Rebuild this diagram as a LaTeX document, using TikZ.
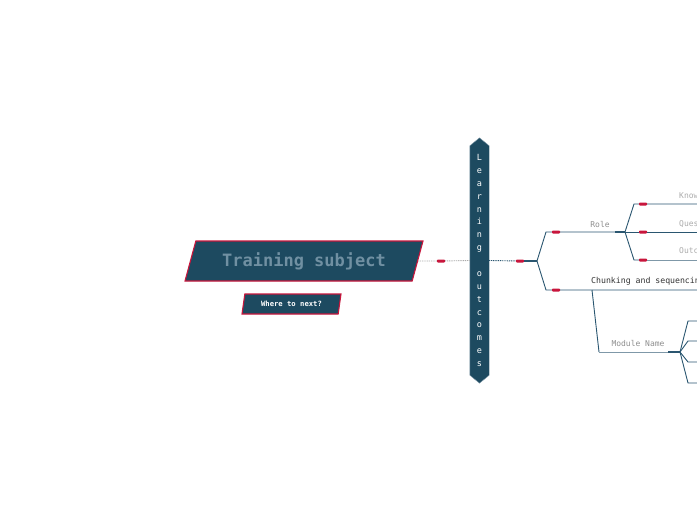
\documentclass[tikz,border=0pt]{standalone}
\usepackage{fontspec}
\setmonofont{DejaVu Sans Mono}
\usetikzlibrary{shapes.geometric,positioning,calc}
\definecolor{navy}{HTML}{1D4A60}
\definecolor{crim}{HTML}{C8163C}
\definecolor{subjtext}{HTML}{7090A2}
\definecolor{wire}{HTML}{2A5670}
\definecolor{softwire}{HTML}{7F98A8}
\definecolor{midgray}{HTML}{8E8E8E}
\definecolor{lightgray}{HTML}{ABABAB}

\begin{document}
\begin{tikzpicture}[x=1pt, y=-1pt,
    para/.style={trapezium, trapezium stretches body, draw=crim, fill=navy, line width=1.1pt, inner sep=0pt, font=\ttfamily\bfseries},
    hexbar/.style={rectangle, minimum width=19pt, minimum height=245pt, inner sep=0pt, text=white, align=center, font=\ttfamily\fontsize{8.5}{12.88}\selectfont},
    marker/.style={rectangle, fill=crim, minimum width=8pt, minimum height=3pt, inner sep=0pt, rounded corners=0.8pt},
    label/.style={font=\ttfamily\fontsize{8}{9}\selectfont, text=midgray, inner sep=0pt},
    leaf/.style={label, text=lightgray, anchor=west},
    branch/.style={wire, line width=0.9pt},
    dotline/.style={lightgray, line width=0.9pt, dash pattern=on 1pt off 0.8pt}]

    \useasboundingbox (0,0) rectangle (697,520);
    \clip (0,0) rectangle (697,520);

    \node[para, trapezium left angle=58, trapezium right angle=122, minimum width=238pt, minimum height=40pt, text=subjtext, font=\ttfamily\bfseries\fontsize{17}{20}\selectfont] (subject) at (304,261) {Training subject};
    \node[para, trapezium left angle=63, trapezium right angle=117, minimum width=99pt, minimum height=20pt, text=white, font=\ttfamily\bfseries\fontsize{7.2}{9}\selectfont] (next) at (291.5,304) {Where to next?};

    \node[hexbar] (outcomes) at (479.5,260.5) {};
    \fill[navy, draw=softwire, line width=0.4pt] (outcomes.north) -- ($(outcomes.north east)+(0,8)$) -- ($(outcomes.south east)+(0,-8)$)
        -- (outcomes.south) -- ($(outcomes.south west)+(0,-8)$) -- ($(outcomes.north west)+(0,8)$) -- cycle;
    \node[hexbar] at (outcomes) {L\\e\\a\\r\\n\\i\\n\\g\\~\\o\\u\\t\\c\\o\\m\\e\\s};

    \node[marker] (m1) at (441,261) {};
    \node[marker] (m2) at (520,261) {};
    \coordinate (j0) at (537,261);

    \draw[dotline] (subject.east) -- (m1) -- (outcomes.west);
    \draw[dotline, wire] (outcomes.east) -- (m2);
    \draw[branch, line width=1.6pt] (m2) -- (j0);

    \coordinate (role0) at (546,232);
    \coordinate (chunk0) at (546,290);
    \coordinate (j1) at (625,232);
    \node[marker] (m3) at (556,232) {};
    \node[marker] (m4) at (556,290) {};
    \node[label] (role) at (600,224) {Role};
    \node[label, text=black!80, anchor=west, font=\ttfamily\fontsize{8.2}{9}\selectfont] (chunk) at (591,281) {Chunking and sequencing};
    \coordinate (chunkend) at (710,290);
    \coordinate (drop) at (592,290);

    \draw[branch] (j0) -- (role0) -- (m3) -- (j1);
    \draw[branch, line width=1.6pt] ($(j1)+(-10,0)$) -- (j1);
    \draw[branch] (j0) -- (chunk0) -- (m4) -- (chunkend);

    \coordinate (k0) at (634,204);
    \coordinate (q0) at (634,232);
    \coordinate (o0) at (634,260);
    \node[marker] (mk) at (643,204) {};
    \node[marker] (mq) at (643,232) {};
    \node[marker] (mo) at (643,260) {};
    \node[leaf] (know) at (679,196) {Knowledge};
    \node[leaf] (ques) at (679,224) {Questions};
    \node[leaf] (outc) at (679,251) {Outcomes};
    \coordinate (kend) at (710,204);
    \coordinate (qend) at (710,232);
    \coordinate (oend) at (710,260);

    \draw[branch] (j1) -- (k0) -- (mk) -- (kend);
    \draw[branch] (j1) -- (mq) -- (qend);
    \draw[branch] (j1) -- (o0) -- (mo);
    \draw[branch, softwire] (mo) -- (oend);

    \coordinate (mod0) at (599,352);
    \coordinate (j2) at (680,352);
    \node[label] (module) at (638,343) {Module Name};
    \draw[branch] (drop) -- (mod0);
    \draw[branch, softwire] (mod0) -- (j2);
    \draw[branch, line width=1.6pt] ($(j2)+(-12,0)$) -- (j2);

    \foreach \y [count=\i] in {321,341,362,383} {
        \coordinate (s\i) at (688,\y);
        \coordinate (e\i) at (710,\y);
        \draw[branch] (j2) -- (s\i) -- (e\i);
    }
\end{tikzpicture}
\end{document}
